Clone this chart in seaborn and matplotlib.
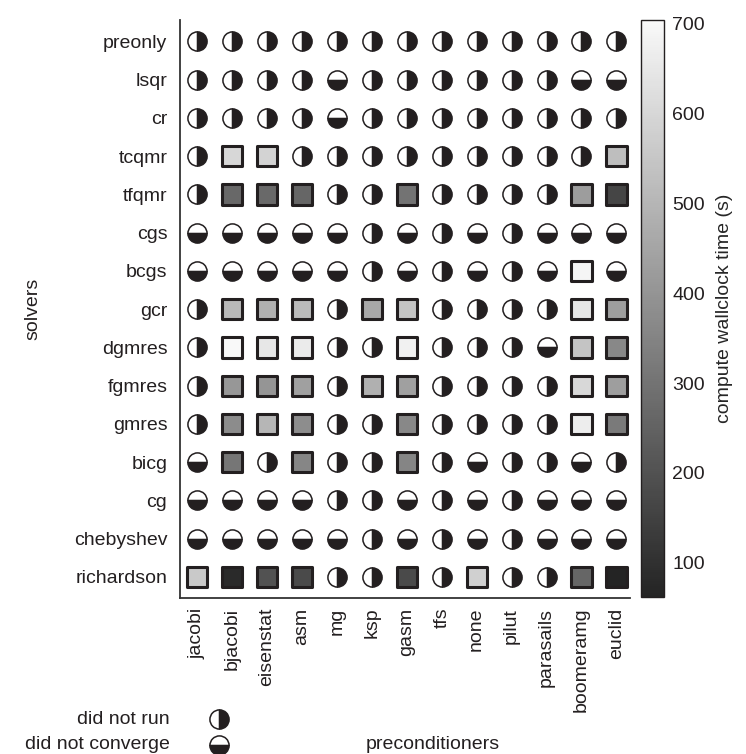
import numpy as np
import pandas as pd
import matplotlib
matplotlib.use("Agg")
import matplotlib.pyplot as plt
import matplotlib.cm as cm
from matplotlib.colors import LinearSegmentedColormap, Normalize
import seaborn as sns

# data: "R" = did not run, "C" = did not converge, numbers = wallclock seconds
solvers = ["preonly", "lsqr", "cr", "tcqmr", "tfqmr", "cgs", "bcgs", "gcr",
           "dgmres", "fgmres", "gmres", "bicg", "cg", "chebyshev", "richardson"]
preconditioners = ["jacobi", "bjacobi", "eisenstat", "asm", "mg", "ksp", "gasm",
                   "tfs", "none", "pilut", "parasails", "boomeramg", "euclid"]

R, C = "R", "C"
preonly = [R, R, R, R, R, R, R, R, R, R, R, R, R]
lsqr = [R, R, R, R, C, R, R, R, R, R, R, C, C]
cr = [R, R, R, R, C, R, R, R, R, R, R, R, R]
tcqmr = [R, 598, 590, R, R, R, R, R, R, R, R, R, 525]
tfqmr = [R, 265, 270, 262, R, R, 300, R, R, R, R, 427, 162]
cgs = [C, C, C, C, C, R, C, R, C, R, C, C, C]
bcgs = [C, C, C, C, C, R, C, R, C, R, C, 690, C]
gcr = [R, 508, 484, 517, R, 459, 541, R, R, R, R, 643, 430]
dgmres = [R, 703, 646, 658, R, R, 676, R, R, R, C, 544, 363]
fgmres = [R, 408, 402, 436, R, 484, 436, R, R, R, R, 604, 429]
gmres = [R, 375, 502, 378, R, R, 363, R, R, R, R, 667, 321]
bicg = [C, 309, R, 357, R, R, 354, R, C, R, R, C, R]
cg = [C, C, C, C, R, R, C, R, C, R, C, C, C]
chebyshev = [C, C, C, C, C, R, C, R, C, R, C, C, C]
richardson = [556, 80, 201, 177, R, R, 177, R, 580, R, R, 261, 62]

results = [preonly, lsqr, cr, tcqmr, tfqmr, cgs, bcgs, gcr, dgmres, fgmres,
           gmres, bicg, cg, chebyshev, richardson]

cbar_ticks = [100, 200, 300, 400, 500, 600, 700]

# long table
records = []
for i, row in enumerate(results):
    for j, v in enumerate(row):
        if v in (R, C):
            records.append({"row": i, "col": j, "status": v, "time": np.nan})
        else:
            records.append({"row": i, "col": j, "status": "T", "time": float(v)})
df = pd.DataFrame(records)

ink = "#231f20"
sns.set_theme(style="white")
plt.rcParams["font.family"] = ["Liberation Sans", "DejaVu Sans"]
plt.rcParams["text.color"] = ink
plt.rcParams["xtick.color"] = ink
plt.rcParams["ytick.color"] = ink

cmap = LinearSegmentedColormap.from_list("wall", ["#242424", "#f9f9f9"])
norm = Normalize(vmin=62, vmax=703)

fig = plt.figure(figsize=(7.46, 7.54), dpi=100)
ax = fig.add_axes([0.241, 0.207, 0.604, 0.766])

sq = df[df["status"] == "T"]
sns.scatterplot(data=sq, x="col", y="row", hue="time", palette=cmap, hue_norm=norm,
                marker="s", s=213, edgecolor=ink, linewidth=2.2, legend=False, ax=ax)

for status, fs in [(R, "right"), (C, "bottom")]:
    sub = df[df["status"] == status]
    ax.plot(sub["col"], sub["row"], ls="none", marker="o", ms=13.8, fillstyle=fs,
            mfc=ink, mfcalt="white", mec=ink, mew=1.1)

ax.set_xlim(-0.5, 12.4)
ax.set_ylim(14.55, -0.55)
ax.set_xticks(range(len(preconditioners)))
ax.set_xticklabels(preconditioners, rotation=90, fontsize=14)
ax.set_yticks(range(len(solvers)))
ax.set_yticklabels(solvers, fontsize=14)
ax.tick_params(axis="x", length=0, pad=7)
ax.tick_params(axis="y", length=0, pad=9)
ax.set_xlabel("")
ax.set_ylabel("")
sns.despine(ax=ax)
for s in ["left", "bottom"]:
    ax.spines[s].set_color("#333333")
    ax.spines[s].set_linewidth(1.3)

# colorbar
cax = fig.add_axes([0.859, 0.208, 0.031, 0.765])
cb = fig.colorbar(cm.ScalarMappable(norm=norm, cmap=cmap), cax=cax)
cb.set_ticks(cbar_ticks)
cb.ax.tick_params(length=0, pad=6, labelsize=14)
cb.outline.set_linewidth(1.0)
cb.outline.set_edgecolor(ink)
cb.set_label("compute wallclock time (s)", fontsize=14, labelpad=8)

# axis titles and legend
fig.text(0.044, 0.59, "solvers", rotation=90, ha="center", va="center", fontsize=14)
fig.text(0.580, 0.012, "preconditioners", ha="center", va="center", fontsize=14)
fig.text(0.228, 0.046, "did not run", ha="right", va="center", fontsize=14)
fig.text(0.228, 0.012, "did not converge", ha="right", va="center", fontsize=14)
for yy, fs in [(0.046, "right"), (0.012, "bottom")]:
    fig.lines.append(plt.Line2D([0.294], [yy], transform=fig.transFigure, ls="none",
                                marker="o", ms=13.8, fillstyle=fs, mfc=ink,
                                mfcalt="white", mec=ink, mew=1.1))

fig.savefig("out.png", dpi=100)
